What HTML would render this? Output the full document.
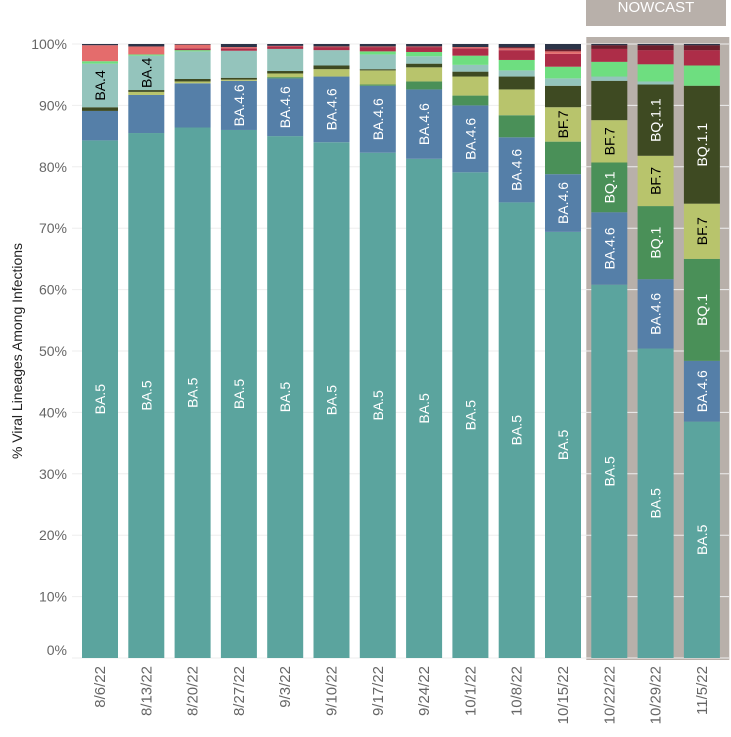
<!DOCTYPE html>
<html><head><meta charset="utf-8"><style>
body{margin:0;background:#fff;width:731px;height:737px;overflow:hidden;font-family:"Liberation Sans",sans-serif}
svg{display:block}
</style></head><body>
<svg id="chart" width="731" height="737" xmlns="http://www.w3.org/2000/svg" font-family="Liberation Sans, sans-serif"></svg>
<script>
const categories=["8/6/22","8/13/22","8/20/22","8/27/22","9/3/22","9/10/22","9/17/22","9/24/22","10/1/22","10/8/22","10/15/22","10/22/22","10/29/22","11/5/22"];
const seriesNames=["BA.5","BA.4.6","BQ.1","BF.7","BQ.1.1","BA.4","BA.2.75","BN.1","BA.2","XBB","Other"];
const ba5   =[84.3,85.5,86.4,86.0,85.0,84.0,82.3,81.3,79.1,74.2,69.4,60.8,50.4,38.5];
const ba46  =[4.8,6.2,7.2,8.0,9.4,10.7,10.9,11.3,10.9,10.6,9.4,11.8,11.3,9.9];
const bq1   =[0,0,0,0,0.2,0,0.2,1.3,1.6,3.6,5.3,8.1,11.9,16.6];
const bf7   =[0,0.5,0.3,0.2,0.6,1.2,2.3,2.3,3.1,4.2,5.6,6.9,8.2,9.0];
const bq11  =[0.6,0.3,0.4,0.3,0.4,0.6,0.2,0.6,0.8,2.1,3.5,6.4,11.6,19.2];
const ba4   =[7.1,5.6,4.5,4.4,3.6,2.5,2.4,1.2,1.1,1.0,1.2,0.7,0.5,0];
const ba275 =[0.4,0.2,0.2,0,0,0,0.5,0.7,1.5,1.7,1.9,2.4,2.8,3.3];
const bn1   =[0,0,0.3,0.4,0.4,0.5,0.7,0.8,1.2,1.6,2.1,2.1,2.3,2.5];
const ba2   =[2.6,1.3,0.6,0.2,0.1,0.1,0.1,0.1,0.2,0.3,0.4,0,0,0];
const xbb   =[0,0,0,0,0,0,0,0,0,0.2,0.3,0.6,0.8,0.8];
const seriesValues=[ba5,ba46,bq1,bf7,bq11,ba4,ba275,bn1,ba2,xbb];
const colors=["#5ba49e","#557fa8","#4a9058","#b8c46c","#3e4a22","#94c4bc","#6ede80","#ad2d48","#e46c6c","#6e1e2c","#2c3448"];
const labelColors=["#fff","#fff","#fff","#000","#fff","#000"];
const yTicks=[0,10,20,30,40,50,60,70,80,90,100];
const nowcastStart=11;

const NS="http://www.w3.org/2000/svg";
const svg=document.getElementById('chart');
const Y0=658,Y1=44,X0=82,STEP=46.3,BW=36;
const y=v=>Y0-(v/100)*(Y0-Y1);
const xb=i=>X0+i*STEP;
function mk(t,a,p){const e=document.createElementNS(NS,t);for(const k in a)e.setAttribute(k,a[k]);(p||svg).appendChild(e);return e;}

// nowcast
const hdr=mk('rect',{x:586,y:0,width:140,height:26,fill:'#b8b0aa'});


const ht=mk('text',{x:656,y:12,'text-anchor':'middle','font-size':15,fill:'#fff'});
ht.textContent='NOWCAST';


const nb=mk('rect',{x:xb(nowcastStart)-5,y:37,width:143,height:623,fill:'#b8b0aa'});



// gridlines + ticks
yTicks.forEach(t=>{
  const g=mk('line',{x1:72,x2:729,y1:y(t),y2:y(t),stroke:'#eeeeee','stroke-width':1});
  
  
  const lt=mk('text',{x:67,y:y(t)+5-(t===0?8:0),'text-anchor':'end','font-size':14,fill:'#666'});
  lt.textContent=t+'%';
  
  
});
const yt=mk('text',{x:0,y:0,transform:'translate(22,351) rotate(-90)','text-anchor':'middle','font-size':14,fill:'#222'});
yt.textContent='% Viral Lineages Among Infections';



categories.forEach((c,i)=>{
  let acc=0;
  const g=mk('g',{});
  
  
  const segs=[];
  seriesValues.forEach((arr,s)=>{segs.push({s,v:arr[i]});});
  const tot=segs.reduce((a,b)=>a+b.v,0);
  segs.push({s:10,v:Math.max(0,100-tot)});
  segs.forEach(({s,v})=>{
    if(v<=0)return;
    const top=y(acc+v),bot=y(acc);
    const r=mk('rect',{x:xb(i),y:top,width:BW,height:bot-top,fill:colors[s]},g);
    
    
    if(s<6){
      const cx=xb(i)+BW/2,cy=(top+bot)/2;
      const t=mk('text',{x:0,y:0,transform:`translate(${cx+5},${cy}) rotate(-90)`,'text-anchor':'middle','font-size':14,fill:labelColors[s]},g);
      t.textContent=seriesNames[s];
      const w=t.getComputedTextLength();
      if(w+4>bot-top){t.remove();}
      else{
        
        
      }
    }
    acc+=v;
  });
  const xl=mk('text',{x:0,y:0,transform:`translate(${xb(i)+BW/2+5},666) rotate(-90)`,'text-anchor':'end','font-size':15,fill:'#666'});
  xl.textContent=c;
  
  
});
</script>
</body></html>
